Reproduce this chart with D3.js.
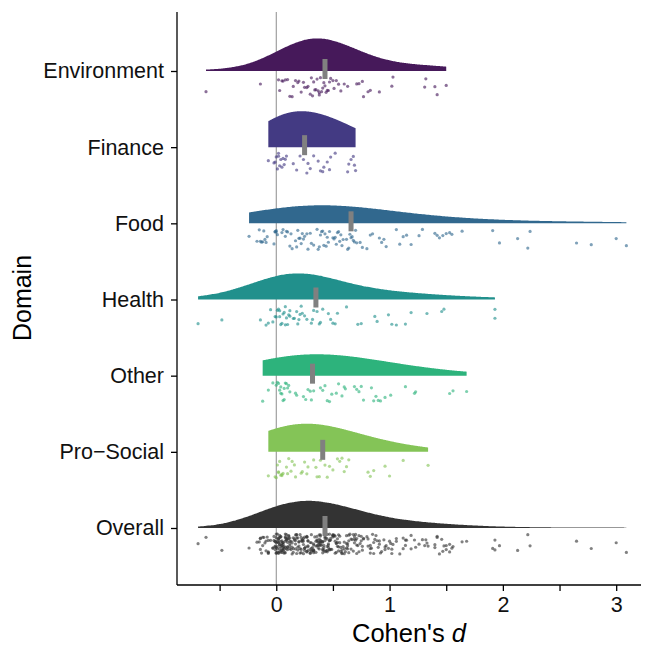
<!DOCTYPE html>
<html><head><meta charset="utf-8">
<script src="https://cdn.jsdelivr.net/npm/d3@7"></script>
<style>body{margin:0;background:#fff}</style>
</head><body><svg id="chart" width="645" height="646"></svg>
<script>
// ---- data ----
const domains = ["Environment", "Finance", "Food", "Health", "Other", "Pro\u2212Social", "Overall"];
const environment = [-0.62, -0.14, 0.02, 0.03, 0.05, 0.06, 0.08, 0.1, 0.12, 0.14, 0.15, 0.17, 0.19, 0.2, 0.22, 0.24, 0.25, 0.27, 0.28, 0.3, 0.31, 0.32, 0.33, 0.34, 0.35, 0.36, 0.37, 0.38, 0.38, 0.39, 0.4, 0.41, 0.42, 0.43, 0.44, 0.45, 0.46, 0.47, 0.48, 0.5, 0.51, 0.53, 0.55, 0.57, 0.6, 0.63, 0.71, 0.73, 0.76, 0.77, 0.81, 0.83, 0.91, 1.02, 1.03, 1.31, 1.32, 1.4, 1.42, 1.5];
const finance = [-0.07, -0.02, -0.01, 0.0, 0.01, 0.02, 0.02, 0.03, 0.04, 0.05, 0.06, 0.07, 0.08, 0.09, 0.15, 0.18, 0.21, 0.24, 0.27, 0.28, 0.3, 0.33, 0.37, 0.39, 0.41, 0.42, 0.45, 0.47, 0.48, 0.52, 0.63, 0.64, 0.66, 0.68, 0.69, 0.7];
const food = [-0.24, -0.17, -0.15, -0.14, -0.13, -0.12, -0.11, -0.1, -0.09, -0.08, -0.02, -0.01, -0.01, 0.0, 0.0, 0.01, 0.05, 0.06, 0.08, 0.09, 0.1, 0.12, 0.13, 0.14, 0.17, 0.18, 0.19, 0.2, 0.21, 0.22, 0.23, 0.24, 0.25, 0.27, 0.28, 0.3, 0.31, 0.33, 0.36, 0.37, 0.38, 0.39, 0.4, 0.41, 0.42, 0.43, 0.44, 0.45, 0.46, 0.47, 0.5, 0.51, 0.52, 0.53, 0.54, 0.55, 0.56, 0.57, 0.58, 0.59, 0.62, 0.63, 0.64, 0.65, 0.66, 0.67, 0.68, 0.69, 0.7, 0.71, 0.74, 0.76, 0.8, 0.83, 0.85, 0.91, 0.93, 0.95, 0.97, 1.06, 1.09, 1.12, 1.15, 1.19, 1.26, 1.29, 1.4, 1.42, 1.44, 1.47, 1.5, 1.53, 1.55, 1.64, 1.91, 1.97, 2.13, 2.22, 2.24, 2.65, 2.78, 3.0, 3.09];
const health = [-0.69, -0.48, -0.14, -0.09, -0.07, -0.05, -0.03, -0.01, 0.0, 0.01, 0.02, 0.03, 0.03, 0.04, 0.05, 0.06, 0.07, 0.08, 0.08, 0.09, 0.1, 0.11, 0.12, 0.12, 0.15, 0.16, 0.18, 0.19, 0.2, 0.21, 0.22, 0.23, 0.25, 0.27, 0.31, 0.32, 0.33, 0.35, 0.36, 0.38, 0.39, 0.41, 0.46, 0.48, 0.5, 0.52, 0.54, 0.62, 0.72, 0.75, 0.87, 0.89, 0.99, 1.02, 1.06, 1.14, 1.19, 1.33, 1.46, 1.48, 1.93, 1.93];
const other = [-0.12, -0.07, -0.03, 0.0, 0.01, 0.02, 0.03, 0.04, 0.04, 0.05, 0.06, 0.07, 0.07, 0.08, 0.09, 0.1, 0.11, 0.12, 0.17, 0.18, 0.24, 0.26, 0.28, 0.3, 0.31, 0.33, 0.39, 0.41, 0.43, 0.45, 0.47, 0.49, 0.53, 0.55, 0.58, 0.6, 0.61, 0.69, 0.71, 0.73, 0.75, 0.77, 0.84, 0.86, 0.88, 0.9, 0.92, 0.96, 1.01, 1.14, 1.22, 1.23, 1.53, 1.56, 1.68];
const proSocial = [-0.07, -0.01, 0.0, 0.01, 0.02, 0.02, 0.03, 0.04, 0.05, 0.05, 0.06, 0.09, 0.1, 0.11, 0.13, 0.14, 0.16, 0.17, 0.22, 0.23, 0.25, 0.27, 0.28, 0.33, 0.35, 0.36, 0.38, 0.39, 0.43, 0.45, 0.47, 0.5, 0.54, 0.56, 0.58, 0.6, 0.62, 0.64, 0.81, 0.83, 0.86, 0.96, 1.0, 1.12, 1.34];
const overall = [].concat(environment, finance, food, health, other, proSocial);
const groupValues = [environment, finance, food, health, other, proSocial, overall];
const markerValues = [0.43, 0.25, 0.66, 0.35, 0.32, 0.41, 0.43];
const colors = ["#46195a", "#433a83", "#31688e", "#21908c", "#2db37c", "#84c457", "#333333"];
const xTicks = [-0.5, 0, 0.5, 1, 1.5, 2, 2.5, 3];
const xTickLabels = ["", "0", "", "1", "", "2", "", "3"];

// ---- layout ----
const svg = d3.select("#chart");
const font = "'Liberation Sans', Arial, Helvetica, sans-serif";
const x = d3.scaleLinear().domain([-0.876, 3.219]).range([177, 641]);
const y = d3.scalePoint().domain(domains).range([71, 528]);
const yTop = 12, yBottom = 585;

// KDE (gaussian, nrd0 * adjust)
function nrd0(v) {
  const s = v.slice().sort(d3.ascending);
  const sd = d3.deviation(s);
  const iqr = (d3.quantile(s, 0.75) - d3.quantile(s, 0.25)) / 1.34;
  return 0.9 * Math.min(sd, iqr) * Math.pow(s.length, -0.2);
}
const adjust = 2.5;
function kde(v) {
  const h = nrd0(v) * adjust;
  const lo = d3.min(v), hi = d3.max(v);
  const n = 240, pts = [];
  for (let i = 0; i <= n; i++) {
    const t = lo + (hi - lo) * i / n;
    let s = 0;
    for (const xi of v) { const u = (t - xi) / h; s += Math.exp(-0.5 * u * u); }
    pts.push([t, s / (v.length * h * Math.sqrt(2 * Math.PI))]);
  }
  return pts;
}
const dens = groupValues.map(kde);
const maxD = d3.max(dens, d => d3.max(d, p => p[1]));
const hScale = d3.scaleLinear().domain([0, maxD]).range([0, 36]);

// zero line
svg.append("line").attr("x1", x(0)).attr("x2", x(0)).attr("y1", yTop).attr("y2", yBottom)
  .attr("stroke", "#8c8c8c").attr("stroke-width", 1);

// half violins
dens.forEach((d, i) => {
  const base = y(domains[i]);
  const area = d3.area().x(p => x(p[0])).y0(base).y1(p => base - hScale(p[1])).curve(d3.curveBasis);
  svg.append("path").attr("d", area(d)).attr("fill", colors[i]);
});

// jittered points
const rng = d3.randomLcg(0.42);
groupValues.forEach((vals, i) => {
  const base = y(domains[i]);
  svg.append("g").selectAll("circle").data(vals).join("circle")
    .attr("cx", v => x(v)).attr("cy", () => base + 6 + rng() * 20)
    .attr("r", 1.6).attr("fill", colors[i]).attr("fill-opacity", 0.62);
});

// markers
svg.append("g").selectAll("rect").data(markerValues).join("rect")
  .attr("x", v => x(v) - 2.5).attr("width", 5)
  .attr("y", (v, i) => y(domains[i]) - 12).attr("height", 20)
  .attr("fill", "#808080");

// axes
const xAxis = d3.axisBottom(x).tickValues(xTicks).tickFormat((d, i) => xTickLabels[i]).tickSizeOuter(0).tickSize(6).tickPadding(6);
const gx = svg.append("g").attr("transform", `translate(0,${yBottom})`).call(xAxis);
gx.select(".domain").attr("d", `M177,0H641`).attr("stroke", "#000").attr("stroke-width", 1.3);
gx.selectAll(".tick line").attr("stroke", "#000").attr("stroke-width", 1.3);
gx.selectAll("text").attr("font-family", font).attr("font-size", 21.5).attr("fill", "#111");

const yAxis = d3.axisLeft(y).tickSizeOuter(0).tickSize(6).tickPadding(7);
const gy = svg.append("g").attr("transform", "translate(177,0)").call(yAxis);
gy.select(".domain").attr("d", `M0,${yTop}V${yBottom}`).attr("stroke", "#000").attr("stroke-width", 1.3);
gy.selectAll(".tick line").attr("stroke", "#000").attr("stroke-width", 1.3);
gy.selectAll("text").attr("font-family", font).attr("font-size", 21.5).attr("fill", "#111");

// titles
const xt = svg.append("text").attr("x", 409).attr("y", 642).attr("text-anchor", "middle")
  .attr("font-family", font).attr("font-size", 25.5).attr("fill", "#000");
xt.append("tspan").text("Cohen's ");
xt.append("tspan").attr("font-style", "italic").text("d");
svg.append("text").attr("transform", "translate(31,298) rotate(-90)").attr("text-anchor", "middle")
  .attr("font-family", font).attr("font-size", 25).attr("fill", "#000").text("Domain");
</script></body></html>
